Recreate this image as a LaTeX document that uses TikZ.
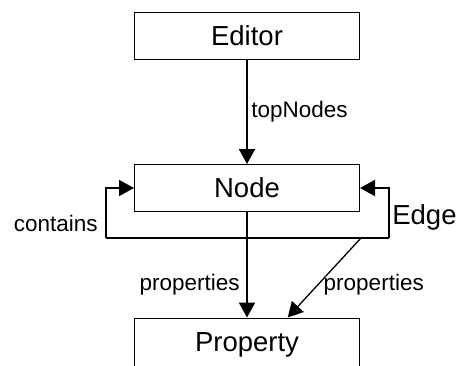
\documentclass[tikz,border=0pt]{standalone}
\usepackage{fontspec}
\setmainfont{Liberation Sans}
\usetikzlibrary{arrows.meta,positioning,calc}

\tikzset{
  classbox/.style={draw,line width=1pt,minimum width=225pt,minimum height=47pt,inner sep=0pt,font=\fontsize{27.5}{32}\selectfont},
  rolelbl/.style={font=\fontsize{22.5}{26}\selectfont},
  assoc/.style={line width=2pt,-{Triangle[length=15pt,width=16pt]}}
}

\begin{document}
\begin{tikzpicture}[x=1pt,y=-1pt]
    \useasboundingbox (0,0) rectangle (466,365);
    \node[classbox](editor) at (247,35.5){Editor};
    \node[classbox](node) at (247,188){Node};
    \node[classbox,minimum height=54pt](property) at (247,345){Property};
    \coordinate (cl) at (106,238);
    \coordinate (cr) at (389,238);
    \coordinate (ed) at (361,238);
    \path(editor)[assoc]edge node[rolelbl,right]{topNodes}(node);
    \draw[line width=2pt](cl)--(cr);
    \draw[assoc](cl)|-node[rolelbl,pos=0.15,left,xshift=-4pt]{contains}(node.west);
    \draw[assoc](cr)|-node[pos=0.21,right,xshift=-1pt,font=\fontsize{27.5}{32}\selectfont]{Edge}(node.east);
    \path(node)[assoc]edge node[rolelbl,pos=0.69,left,xshift=-3pt]{properties}(property);
    \draw[assoc,line width=1.3pt](ed)--node[rolelbl,pos=0.59,right,xshift=2pt]{properties}($(property.north west)!0.68!(property.north east)$);
\end{tikzpicture}
\end{document}
